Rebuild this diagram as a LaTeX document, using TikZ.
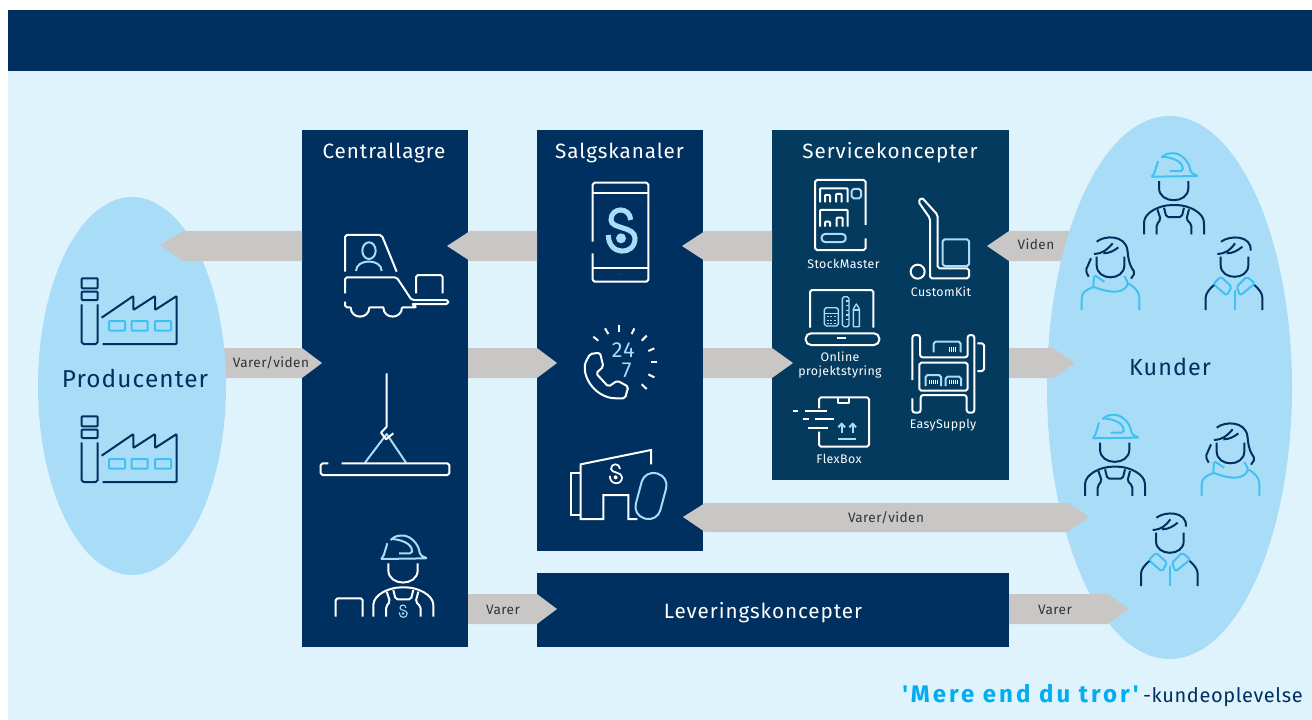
\documentclass[tikz,border=0pt]{standalone}
\usepackage{fontspec}
\setmainfont{Fira Sans}
\newfontfamily\headf[LetterSpace=4.5]{Fira Sans}
\newfontfamily\smallf[LetterSpace=3]{Fira Sans}
\newfontfamily\boldf[LetterSpace=12.5]{Fira Sans Bold}
\definecolor{navy}{HTML}{00305F}
\definecolor{svc}{HTML}{053A5F}
\definecolor{paper}{HTML}{DFF3FC}
\definecolor{oval}{HTML}{A9DDF7}
\definecolor{greyarrow}{HTML}{C8C7C6}
\definecolor{lite}{HTML}{A9DDF7}
\definecolor{cyanline}{HTML}{3EC1F3}
\definecolor{brand}{HTML}{00AEEF}
\definecolor{labelgrey}{HTML}{333333}
\tikzset{
  z3/.style={x=0.25pt,y=-0.25pt},
  panel/.style={fill=navy,draw=none},
  garrow/.style={fill=greyarrow,draw=none},
  ln/.style={line width=1.5pt,line join=round,line cap=butt,rounded corners=1.4pt},
  wl/.style={ln,draw=white},
  ll/.style={ln,draw=lite},
  head/.style={text=white,anchor=base,font=\headf\fontsize{15.5}{18}\selectfont,inner sep=0pt},
  headbig/.style={text=navy,anchor=base,font=\headf\fontsize{17.5}{20}\selectfont,inner sep=0pt},
  small/.style={text=white,font=\smallf\fontsize{9.3}{10.6}\selectfont,inner sep=0pt,align=center},
  alabel/.style={text=labelgrey,font=\smallf\fontsize{10.2}{12}\selectfont,inner sep=0pt},
}
% factory: coordinates of zoom 1
\newcommand{\factoryicon}[2]{%
\begin{scope}[shift={(#1,#2)},z3]
 \draw[ln,draw=navy,rounded corners=0.6pt] (155,265) rectangle (203,295);
 \draw[ln,draw=navy,rounded corners=0.6pt] (155,305) rectangle (203,330);
 \draw[ln,draw=navy] (155,343) -- (155,462) -- (203,462) -- (203,343);
 \draw[ln,draw=navy,rounded corners=0.6pt] (215,383) -- (310,318) -- (310,360) -- (375,318) -- (375,360) -- (440,318) -- (440,462) -- (218,462);
 \foreach \wx in {237,305,375}{\draw[ln,draw=cyanline,rounded corners=0.5pt] (\wx,393) rectangle ++(48,29);}
\end{scope}}
% brand S, unit box 90x130
\newcommand{\brandS}[6]{% x,y,scale,width,colour,dot radius
\begin{scope}[shift={(#1,#2)},z3,scale=#3]
 \draw[line width=#4,draw=#5,line cap=butt] (72,32) .. controls (70,-8) and (13,-8) .. (13,32) .. controls (13,60) and (85,50) .. (85,87) .. controls (85,140) and (5,140) .. (5,77);
 \fill[#5] (43,87) circle (#6);
\end{scope}}
% worker: coordinates of zoom 3
\newcommand{\workericon}[4]{%
\begin{scope}[shift={(#1,#2)},z3]
 \draw[ln,draw=#3] (243,597) -- (382,595) -- (360,585) .. controls (355,545) and (325,525) .. (300,527) .. controls (290,528) and (280,532) .. (272,540);
 \draw[ln,draw=#3] (262,550) -- (250,590) -- (243,597);
 \draw[ln,draw=#3] (297,580) -- (336,580) .. controls (338,560) and (320,540) .. (275,537);
 \draw[ln,draw=#4] (265,610) -- (265,625) .. controls (265,680) and (353,680) .. (353,625) -- (353,610);
 \draw[ln,draw=#4] (220,770) -- (220,738) .. controls (222,705) and (265,682) .. (310,682) .. controls (355,682) and (398,705) .. (400,738) -- (400,770);
 \draw[ln,draw=#4] (260,695) -- (270,725) -- (258,740) -- (258,770);
 \draw[ln,draw=#4] (280,690) -- (287,718) -- (333,718) -- (340,690);
 \draw[ln,draw=#4] (355,695) -- (347,725) -- (362,740) -- (362,770);
\end{scope}}
% man: coordinates of zoom 8
\newcommand{\manicon}[2]{%
\begin{scope}[shift={(#1,#2)},z3]
 \draw[ln,draw=navy] (483,305) .. controls (510,285) and (575,285) .. (572,332);
 \draw[ln,draw=navy] (472,342) .. controls (500,340) and (510,330) .. (525,310);
 \draw[ln,draw=navy] (500,340) .. controls (520,340) and (535,330) .. (547,320);
 \draw[ln,draw=navy] (482,350) -- (482,370) .. controls (482,422) and (565,422) .. (565,370) -- (565,350);
 \draw[ln,draw=cyanline] (460,432) -- (482,410) -- (515,440) -- (500,467) -- cycle;
 \draw[ln,draw=cyanline] (585,430) -- (560,410) -- (530,440) -- (540,467) -- cycle;
 \draw[ln,draw=cyanline] (525,450) -- (525,510);
 \draw[ln,draw=navy] (437,510) -- (437,478) .. controls (437,460) and (450,445) .. (462,435);
 \draw[ln,draw=navy] (607,510) -- (607,478) .. controls (607,460) and (595,445) .. (583,435);
\end{scope}}
% woman: coordinates of zoom 8
\newcommand{\womanicon}[2]{%
\begin{scope}[shift={(#1,#2)},z3]
 \draw[ln,draw=navy] (110,305) .. controls (135,285) and (195,285) .. (203,335) .. controls (206,370) and (215,385) .. (225,398) -- (213,416);
 \draw[ln,draw=navy] (102,342) .. controls (130,340) and (140,330) .. (158,310);
 \draw[ln,draw=navy] (130,340) .. controls (150,340) and (165,330) .. (175,322);
 \draw[ln,draw=navy] (93,355) -- (77,392) -- (86,410);
 \draw[ln,draw=navy] (110,350) -- (110,370) .. controls (110,424) and (193,424) .. (193,370) -- (193,350);
 \draw[ln,draw=cyanline] (133,425) -- (102,405) -- (100,440);
 \draw[ln,draw=cyanline] (65,510) -- (65,475) .. controls (67,455) and (85,448) .. (100,440) .. controls (125,450) and (185,470) .. (205,430) -- (193,408);
 \draw[ln,draw=cyanline] (205,430) .. controls (222,440) and (238,455) .. (238,478) -- (238,510);
\end{scope}}
\begin{document}
\begin{tikzpicture}[x=0.75pt,y=-0.75pt]
\useasboundingbox (0,0) rectangle (1312,720);
\fill[white] (0,0) rectangle (1312,720);
\fill[paper] (8,10) rectangle (1312,720);
\fill[navy] (8,10) rectangle (1312,71);

% arrows that pass under the ovals
\fill[garrow] (200,348) -- (302,348) -- (322,363) -- (302,378) -- (200,378) -- cycle;
\fill[garrow] (1100,231) -- (1010,231) -- (987,246) -- (1010,261) -- (1100,261) -- cycle;

% ovals
\fill[oval] (132,386) ellipse (94 and 189);
\fill[oval] (1169.5,387.5) ellipse (122.5 and 271.5);

% panels
\fill[panel] (302,130) rectangle (468,647);
\fill[panel] (537,130) rectangle (703,551);
\fill[fill=svc] (772,130) rectangle (1009,480);
\fill[panel] (537,573) rectangle (1009,647);
% redraw tips over the panels
\fill[garrow] (302,348) -- (322,363) -- (302,378) -- cycle;
\fill[garrow] (1009,231) -- (987,246) -- (1009,261) -- cycle;

% remaining arrows
\fill[garrow] (302,231) -- (183,231) -- (160,245) -- (183,261) -- (302,261) -- cycle;
\fill[garrow] (537,231) -- (470,231) -- (447,246) -- (470,261) -- (537,261) -- cycle;
\fill[garrow] (772,231) -- (705,231) -- (682,246) -- (705,261) -- (772,261) -- cycle;
\fill[garrow] (468,348) -- (537,348) -- (557,363) -- (537,378) -- (468,378) -- cycle;
\fill[garrow] (703,348) -- (772,348) -- (793,363) -- (772,378) -- (703,378) -- cycle;
\fill[garrow] (1009,348) -- (1053,348) -- (1075,363) -- (1053,378) -- (1009,378) -- cycle;
\fill[garrow] (683,517) -- (705,503) -- (1068,503) -- (1089,517) -- (1068,532) -- (705,532) -- cycle;
\fill[garrow] (468,594) -- (537,594) -- (557,609) -- (537,624) -- (468,624) -- cycle;
\fill[garrow] (1009,594) -- (1108,594) -- (1129,609) -- (1108,624) -- (1009,624) -- cycle;

% arrow labels
\node[alabel] (lvv1) at (271,362.5) {Varer/viden};
\node[alabel] (lviden) at (1036,244.5) {Viden};
\node[alabel] (lvv2) at (886,517.5) {Varer/viden};
\node[alabel] (lv1) at (503,609.5) {Varer};
\node[alabel] (lv2) at (1055,609.5) {Varer};

% headings
\node[head] (central) at (384,159) {Centrallagre};
\node[head] (salg) at (619.5,159) {Salgskanaler};
\node[head] (service) at (890,159) {Servicekoncepter};
\node[head] (lever) at (763,618) {Leveringskoncepter};
\node[headbig,font=\headf\fontsize{18.3}{20}\selectfont] (prod) at (135,387) {Producenter};
\node[headbig] (kunder) at (1170,375) {Kunder};

% small labels
\node[small] (sm) at (843.5,264) {StockMaster};
\node[small] (ck) at (941,292) {CustomKit};
\node[small] (on) at (840,365) {Online\\projektstyring};
\node[small] (fb) at (839,459) {FlexBox};
\node[small] (es) at (943,425.5) {EasySupply};

% tagline
\node[anchor=base west,inner sep=0pt,text=brand,font=\boldf\fontsize{18}{20}\selectfont] (tag1) at (902,702) {'Mere end du tror'};
\node[anchor=base east,inner sep=0pt,text=navy,font=\smallf\fontsize{15}{18}\selectfont] (tag2) at (1303,702) {-kundeoplevelse};

% factories
\factoryicon{30}{190}
\factoryicon{30}{328}

% forklift (zoom 2)
\begin{scope}[shift={(300,130)},z3]
 \draw[wl] (135,425) -- (135,315) -- (245,315) -- (290,425);
 \draw[ll] (207,362) ellipse (20 and 25);
 \draw[ll] (168,423) .. controls (168,385) and (245,385) .. (245,423);
 \draw[wl] (135,490) -- (135,442) -- (290,442) -- (335,510) -- (445,510) -- (445,522) -- (335,522) -- (350,532) -- (306,532);
 \draw[wl] (135,515) -- (135,532) -- (152,532);
 \draw[wl,rounded corners=0pt] (152,532) .. controls (152,569) and (208,569) .. (208,532);
 \draw[wl,rounded corners=0pt] (208,532) -- (250,532) .. controls (250,569) and (306,569) .. (306,532);
 \draw[wl] (348,490) -- (348,435) -- (428,435) -- (428,490);
\end{scope}

% hook and beam (zoom 3)
\begin{scope}[shift={(300,360)},z3]
 \draw[ll,rounded corners=0pt] (195,308) -- (260,222) -- (318,308);
 \draw[wl,rounded corners=0.3pt] (260,40) -- (260,200) -- (243,218) -- (258,238) -- (280,220);
 \draw[wl] (85,310) -- (62,310) -- (62,345) -- (448,345) -- (448,310) -- (125,310);
 \draw[wl] (107,770) -- (107,715) -- (188,715) -- (188,770);
\end{scope}
\workericon{300}{360}{lite}{white}
\brandS{398.7}{604.8}{0.3}{0.8pt}{lite}{13}

% phone (zoom 4)
\begin{scope}[shift={(540,170)},z3]
 \draw[wl] (158,215) -- (158,38) -- (325,38) -- (325,335) -- (158,335) -- (158,250);
 \draw[wl] (158,70) -- (325,70);
 \draw[wl] (158,295) -- (325,295);
 \draw[draw=svc,line width=1pt] (230,312) -- (250,312);
 \draw[wl] (150,552) -- (180,548) -- (190,590) -- (168,610) -- (205,650) -- (232,632) -- (265,650) -- (255,685) -- (225,685) .. controls (170,680) and (130,630) .. (135,580) -- cycle;
 \foreach \ax/\ay/\bx/\by in {160/500/175/512,195/475/205/492,238/465/238/485,283/475/275/492,320/497/305/512,343/535/325/543,352/577/333/577,343/622/325/613,320/657/305/643}{
   \draw[wl] (\ax,\ay) -- (\bx,\by);}
 \node[text=lite,inner sep=0pt,font=\headf\fontsize{16.3}{18}\selectfont] (t24) at (250,540) {24};
 \node[text=lite,inner sep=0pt,font=\headf\fontsize{16.3}{18}\selectfont] (t7) at (260,600) {7};
\end{scope}
\brandS{606.67}{209.3}{1}{3.8pt}{lite}{15}

% building (zoom 5)
\begin{scope}[shift={(540,430)},z3]
 \draw[wl,rounded corners=0pt,line join=miter] (333,103) -- (333,60) -- (122,103) -- (122,267) -- (190,267) -- (190,195) -- (265,195) -- (265,267) -- (292,267);
 \draw[wl,rounded corners=0pt,line join=miter] (122,128) -- (92,128) -- (92,254) -- (122,254);
 \draw[ll,rounded corners=9pt,rotate around={-15:(333,198)}] (295,128) rectangle (371,268);
\end{scope}
\brandS{609}{464}{0.46}{1.3pt}{white}{13}

% StockMaster (zoom 6)
\begin{scope}[shift={(775,170)},z3]
 \draw[wl] (272,165) -- (272,30) -- (120,30) -- (120,240) -- (272,240) -- (272,205);
 \draw[ll] (230,57) rectangle (258,85);
 \draw[wl,rounded corners=0.6pt] (135,97) -- (135,55) -- (218,55) -- (218,97);
 \draw[wl,rounded corners=0.6pt] (150,97) -- (150,75) -- (165,75) -- (165,97);
 \draw[wl,rounded corners=0.6pt] (183,97) -- (183,72) -- (200,72) -- (200,97);
 \draw[wl,rounded corners=0.6pt] (135,170) -- (135,120) -- (218,120) -- (218,170);
 \draw[wl,rounded corners=0.6pt] (150,170) -- (150,155) -- (165,155) -- (165,170);
 \draw[wl,rounded corners=0.6pt] (185,170) -- (185,143) -- (203,143) -- (203,170);
 \draw[ll,rounded corners=2.5pt] (140,192) rectangle (212,216);
 % trolley
 \draw[wl] (430,95) -- (440,82) -- (488,135) -- (488,295) -- (582,295) -- (582,325) -- (465,325) -- (465,145) -- cycle;
 \draw[wl] (428,305) circle (21);
 \draw[ll] (503,208) rectangle (582,288);
\end{scope}

% laptop (zoom 11)
\begin{scope}[shift={(800,285)},z3]
 \draw[wl] (30,128) -- (30,15) -- (220,15) -- (220,128);
 \draw[wl,rounded corners=4pt] (17,145) -- (238,145) -- (238,180) -- (17,180) -- cycle;
 \draw[wl] (110,160) -- (137,160);
 \draw[ll,line width=1pt] (73,68) rectangle (115,123);
 \draw[ll,line width=0.8pt] (73,85) -- (115,85);
 \foreach \gy in {95,105,115}{\draw[draw=lite,line width=0.6pt,dash pattern=on 1.6pt off 1pt] (80,\gy) -- (108,\gy);}
 \draw[ll,line width=1pt] (127,35) rectangle (147,125);
 \foreach \gy in {48,62,76,90,104}{\draw[draw=lite,line width=0.8pt] (137,\gy) -- (147,\gy);}
 \draw[ll,line width=1pt,rounded corners=0pt] (160,125) -- (160,72) -- (169,57) -- (178,72) -- (178,125) -- cycle;
 \draw[draw=lite,line width=0.8pt] (160,75) -- (178,75);
\end{scope}

% EasySupply and FlexBox (zoom 7)
\begin{scope}[shift={(775,320)},z3]
 \draw[wl,rounded corners=2pt] (412,180) -- (412,45) -- (435,45) -- (435,112) -- (578,112) -- (578,45) -- (598,45) -- (598,278) -- (575,278) -- (575,225) -- (437,225) -- (437,278) -- (412,278) -- (412,235);
 \draw[wl] (433,128) rectangle (578,212);
 \draw[wl] (607,70) -- (627,70) -- (627,153) -- (607,153);
 \draw[ll] (476,97) -- (476,65) -- (557,65) -- (557,97);
 \draw[ll] (452,198) -- (452,165) -- (498,165) -- (498,198);
 \draw[ll] (512,198) -- (512,170) -- (558,170) -- (558,198);
 \foreach \bx in {524,530,536,542}{\draw[white,line width=0.8pt] (\bx,82) -- (\bx,97);}
 \foreach \bx in {463,469,475,481,487}{\draw[white,line width=0.8pt] (\bx,180) -- (\bx,193);}
 \foreach \bx in {523,529,535,541,547}{\draw[white,line width=0.8pt] (\bx,180) -- (\bx,193);}
 \draw[wl] (132,265) -- (132,232) -- (282,232) -- (282,380) -- (132,380) -- (132,335);
 \draw[wl,rounded corners=0pt] (190,232) -- (190,250) -- (222,250) -- (222,232);
 \foreach \ax/\bx/\ly in {53/70/272,90/155/272,85/102/298,120/177/298,100/160/325}{\draw[wl] (\ax,\ly) -- (\bx,\ly);}
 \draw[ll,rounded corners=0pt] (200,340) -- (200,314);
 \draw[ll,rounded corners=0pt] (190,322) -- (200,311) -- (210,322);
 \draw[ll,rounded corners=0pt] (233,340) -- (233,314);
 \draw[ll,rounded corners=0pt] (223,322) -- (233,311) -- (243,322);
 \draw[ll] (190,357) -- (242,357);
\end{scope}

% people
\workericon{1070.67}{-22.3}{cyanline}{navy}
\workericon{1011.7}{239.3}{cyanline}{navy}
\manicon{1060}{140}
\manicon{995.33}{416}
\womanicon{1060}{140}
\womanicon{1180}{326}
\end{tikzpicture}
\end{document}
